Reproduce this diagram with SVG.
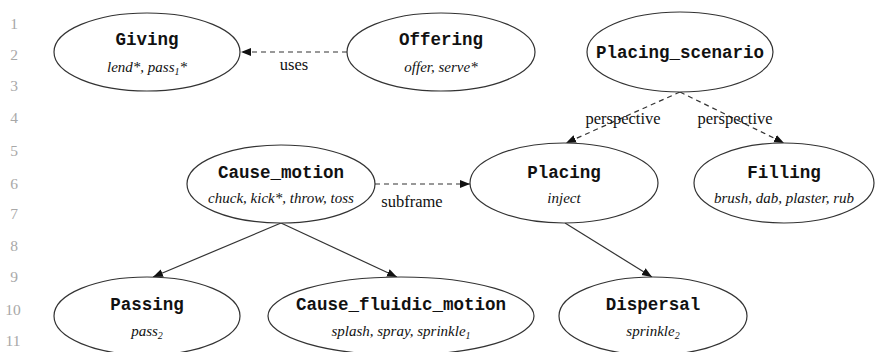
<svg xmlns="http://www.w3.org/2000/svg" width="875" height="352" viewBox="0 0 875 352">
<style>
.n{fill:#fff;stroke:#333;stroke-width:1.2}
.t{font-family:"Liberation Mono",monospace;font-weight:bold;font-size:17.5px;text-anchor:middle;fill:#111}
.s{font-family:"Liberation Serif",serif;font-style:italic;font-size:15px;text-anchor:middle;fill:#111}
.l{font-family:"Liberation Serif",serif;font-size:16.5px;text-anchor:middle;fill:#111}
.ln{font-family:"Liberation Serif",serif;font-size:15.5px;text-anchor:middle;fill:#a8a8a8}
.e{fill:none;stroke:#333;stroke-width:1.2}
.d{stroke-dasharray:5,4}
</style>
<defs>
<marker id="a" viewBox="0 0 10 10" refX="10" refY="5" markerWidth="10" markerHeight="10" markerUnits="userSpaceOnUse" orient="auto"><path d="M0,1 L10,5 L0,9 z" fill="#111"/></marker>
</defs>
<g id="linenums">
<text class="ln" x="14" y="29">1</text>
<text class="ln" x="14" y="60">2</text>
<text class="ln" x="14" y="91">3</text>
<text class="ln" x="14" y="123">4</text>
<text class="ln" x="14" y="156">5</text>
<text class="ln" x="14" y="189">6</text>
<text class="ln" x="14" y="219">7</text>
<text class="ln" x="14" y="251">8</text>
<text class="ln" x="14" y="282">9</text>
<text class="ln" x="13" y="315">10</text>
<text class="ln" x="13" y="346">11</text>
</g>
<g id="edges">
<line class="e d" x1="347" y1="52" x2="241" y2="52" marker-end="url(#a)"/>
<text class="l" x="294" y="70">uses</text>
<line class="e d" x1="680" y1="92" x2="566" y2="143" marker-end="url(#a)"/>
<text class="l" x="623" y="124">perspective</text>
<line class="e d" x1="680" y1="92" x2="784" y2="143" marker-end="url(#a)"/>
<text class="l" x="735" y="124">perspective</text>
<line class="e d" x1="375" y1="184" x2="470" y2="184" marker-end="url(#a)"/>
<text class="l" x="412" y="207">subframe</text>
<line class="e" x1="281" y1="223" x2="153" y2="277" marker-end="url(#a)"/>
<line class="e" x1="281" y1="223" x2="397" y2="277" marker-end="url(#a)"/>
<line class="e" x1="565" y1="223" x2="652" y2="277" marker-end="url(#a)"/>
</g>
<g id="Giving">
<ellipse class="n" cx="147" cy="52" rx="93" ry="39"/>
<text class="t" x="147" y="45">Giving</text>
<text class="s" x="147" y="72">lend*, pass<tspan font-size="10" dy="3">1</tspan><tspan dy="-3">*</tspan></text>
</g>
<g id="Offering">
<ellipse class="n" cx="441" cy="52" rx="94" ry="39"/>
<text class="t" x="441" y="45">Offering</text>
<text class="s" x="441" y="72">offer, serve*</text>
</g>
<g id="Placing_scenario">
<ellipse class="n" cx="680" cy="52" rx="93" ry="40"/>
<text class="t" x="680" y="58">Placing_scenario</text>
</g>
<g id="Cause_motion">
<ellipse class="n" cx="281" cy="184" rx="94" ry="39"/>
<text class="t" x="281" y="178">Cause_motion</text>
<text class="s" x="281" y="203">chuck, kick*, throw, toss</text>
</g>
<g id="Placing">
<ellipse class="n" cx="564" cy="183" rx="94" ry="40"/>
<text class="t" x="564" y="178">Placing</text>
<text class="s" x="564" y="203">inject</text>
</g>
<g id="Filling">
<ellipse class="n" cx="784" cy="183" rx="90" ry="40"/>
<text class="t" x="784" y="178">Filling</text>
<text class="s" x="784" y="203">brush, dab, plaster, rub</text>
</g>
<g id="Passing">
<ellipse class="n" cx="147" cy="316" rx="93" ry="39"/>
<text class="t" x="147" y="310">Passing</text>
<text class="s" x="147" y="336">pass<tspan font-size="10" dy="3">2</tspan></text>
</g>
<g id="Cause_fluidic_motion">
<ellipse class="n" cx="401" cy="316" rx="133" ry="39"/>
<text class="t" x="401" y="310">Cause_fluidic_motion</text>
<text class="s" x="401" y="336">splash, spray, sprinkle<tspan font-size="10" dy="3">1</tspan></text>
</g>
<g id="Dispersal">
<ellipse class="n" cx="653" cy="316" rx="94" ry="39"/>
<text class="t" x="653" y="310">Dispersal</text>
<text class="s" x="653" y="336">sprinkle<tspan font-size="10" dy="3">2</tspan></text>
</g>
</svg>
